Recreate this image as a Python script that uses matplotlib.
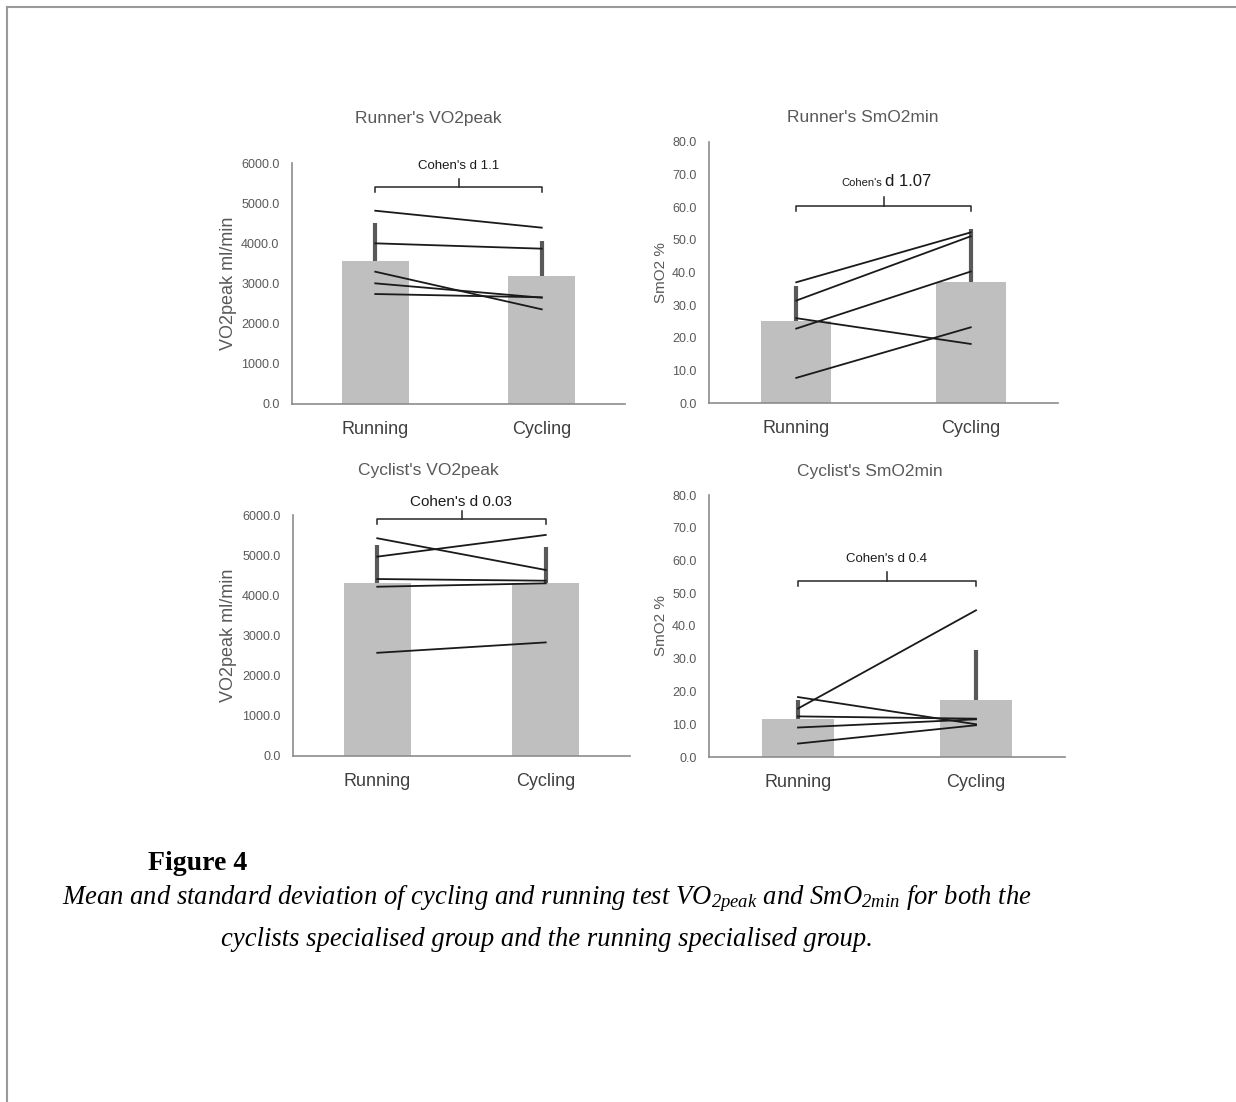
import matplotlib
matplotlib.use('Agg')
import matplotlib.pyplot as plt
from matplotlib.lines import Line2D

plt.rcParams['font.family'] = ['Liberation Sans', 'DejaVu Sans']
plt.rcParams['mathtext.fontset'] = 'custom'
plt.rcParams['mathtext.rm'] = 'Liberation Serif:italic'
plt.rcParams['mathtext.it'] = 'Liberation Serif:italic'

groups = ['Running', 'Cycling']

# Runner's VO2peak (ml/min)
run_vo2_mean = [3567, 3187]
run_vo2_sd = [946, 880]
run_vo2_subjects = [[4812, 4390], [4000, 3867], [3294, 2357], [3004, 2647], [2738, 2656]]

# Runner's SmO2min (%)
run_smo2_mean = [25.0, 37.1]
run_smo2_sd = [11.0, 16.2]
run_smo2_subjects = [[37.0, 52.3], [31.4, 51.1], [22.8, 40.3], [26.0, 18.1], [7.7, 23.2]]

# Cyclist's VO2peak (ml/min)
cyc_vo2_mean = [4314, 4314]
cyc_vo2_sd = [940, 883]
cyc_vo2_subjects = [[5421, 4631], [4963, 5504], [4406, 4364], [4214, 4299], [2569, 2828]]

# Cyclist's SmO2min (%)
cyc_smo2_mean = [11.7, 17.5]
cyc_smo2_sd = [5.6, 15.3]
cyc_smo2_subjects = [[14.8, 44.8], [18.3, 10.0], [12.4, 11.7], [9.0, 11.5], [4.1, 9.7]]

effects = ['1.1', '1.07', '0.03', '0.4']

fig = plt.figure(figsize=(12.36, 11.02), dpi=100)
W, H = 1236, 1102


def rect(x0, x1, ytop, ybot):
    return [x0 / W, 1 - ybot / H, (x1 - x0) / W, (ybot - ytop) / H]


panels = [
    dict(title="Runner's VO2peak", ylabel='VO2peak ml/min', ymax=6000, step=1000,
         mean=run_vo2_mean, sd=run_vo2_sd, subj=run_vo2_subjects,
         rect=rect(292, 625, 163, 404), tpos=(428, 118), ylx=-0.165, ylsize=13,
         br=5395, ty=5920, tsize=9.5),
    dict(title="Runner's SmO2min", ylabel='SmO2 %', ymax=80, step=10,
         mean=run_smo2_mean, sd=run_smo2_sd, subj=run_smo2_subjects,
         rect=rect(709, 1058, 142, 403), tpos=(863, 117), ylx=-0.117, ylsize=11,
         br=60.3, ty=66.6, tsize=None),
    dict(title="Cyclist's VO2peak", ylabel='VO2peak ml/min', ymax=6000, step=1000,
         mean=cyc_vo2_mean, sd=cyc_vo2_sd, subj=cyc_vo2_subjects,
         rect=rect(293, 630, 515, 756), tpos=(428, 470), ylx=-0.165, ylsize=13,
         br=5895, ty=6334, tsize=11),
    dict(title="Cyclist's SmO2min", ylabel='SmO2 %', ymax=80, step=10,
         mean=cyc_smo2_mean, sd=cyc_smo2_sd, subj=cyc_smo2_subjects,
         rect=rect(709, 1065, 495, 757), tpos=(870, 471), ylx=-0.115, ylsize=11,
         br=53.7, ty=60.6, tsize=9.5),
]

x = [0, 1]
for p, eff in zip(panels, effects):
    ax = fig.add_axes(p['rect'])
    ax.bar(x, p['mean'], width=0.4, color='#bfbfbf', zorder=1)
    ax.errorbar(x, p['mean'], yerr=[[0, 0], p['sd']], fmt='none',
                ecolor='#595959', elinewidth=3, capsize=0, zorder=2)
    for s in p['subj']:
        ax.plot(x, s, color='#1a1a1a', lw=1.3, zorder=3)

    ax.set_xlim(-0.5, 1.5)
    ax.set_ylim(0, p['ymax'])
    ax.set_yticks(range(0, p['ymax'] + 1, p['step']))
    ax.set_yticklabels([f'{v:.1f}' for v in range(0, p['ymax'] + 1, p['step'])])
    ax.set_xticks(x)
    ax.set_xticklabels(groups)
    ax.tick_params(axis='y', length=0, pad=9, labelsize=9, labelcolor='#595959')
    ax.tick_params(axis='x', length=0, pad=12, labelsize=13, labelcolor='#404040')
    for side in ['top', 'right']:
        ax.spines[side].set_visible(False)
    for side in ['left', 'bottom']:
        ax.spines[side].set_color('#8c8c8c')
        ax.spines[side].set_linewidth(1.2)
    ax.set_ylabel(p['ylabel'], fontsize=p['ylsize'], color='#595959')
    ax.yaxis.set_label_coords(p['ylx'], 0.5)

    # effect size bracket
    y = p['br']
    drop = p['ymax'] * 0.02
    rise = p['ymax'] * 0.035
    ax.plot([0, 0, 1, 1], [y - drop, y, y, y - drop], color='#262626', lw=1.1,
            clip_on=False, zorder=4)
    ax.plot([0.5, 0.5], [y, y + rise], color='#262626', lw=1.1, clip_on=False, zorder=4)
    if p['tsize'] is None:
        ax.text(0.49, p['ty'], "Cohen's", ha='right', va='baseline', fontsize=8,
                color='#1a1a1a', clip_on=False)
        ax.text(0.51, p['ty'], 'd ' + eff, ha='left', va='baseline', fontsize=12,
                color='#1a1a1a', clip_on=False)
    else:
        ax.text(0.5, p['ty'], "Cohen's d " + eff, ha='center', va='center',
                fontsize=p['tsize'], color='#1a1a1a', clip_on=False)

    fig.text(p['tpos'][0] / W, 1 - p['tpos'][1] / H, p['title'], ha='center',
             va='center', fontsize=12.5, color='#595959')

# caption
fig.text(148 / W, 1 - 863 / H, 'Figure 4', ha='left', va='center', fontsize=20,
         fontweight='bold', family='Liberation Serif')
fig.text(547 / W, 1 - 899 / H,
         r'Mean and standard deviation of cycling and running test VO$_{\mathrm{2peak}}$'
         r' and SmO$_{\mathrm{2min}}$ for both the',
         ha='center', va='center', fontsize=19.2, style='italic', family='Liberation Serif')
fig.text(547 / W, 1 - 939 / H,
         'cyclists specialised group and the running specialised group.',
         ha='center', va='center', fontsize=19.2, style='italic', family='Liberation Serif')

# page border (top and left)
fig.add_artist(Line2D([7 / W, 1], [1 - 7 / H, 1 - 7 / H], color='#999999', lw=1.5))
fig.add_artist(Line2D([7 / W, 7 / W], [0, 1 - 7 / H], color='#999999', lw=1.5))

fig.savefig('out.png', dpi=100)
